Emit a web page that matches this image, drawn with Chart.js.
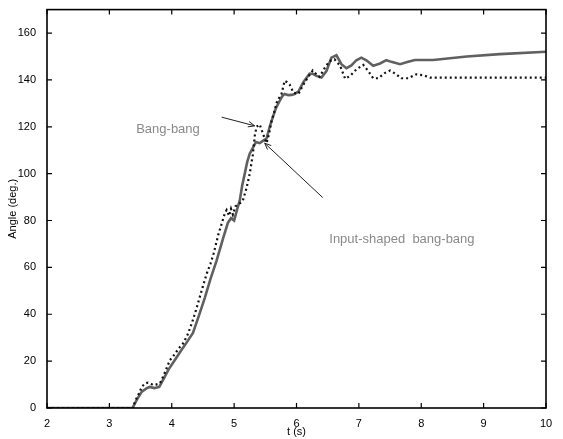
<!DOCTYPE html>
<html>
<head>
<meta charset="utf-8">
<script src="https://cdn.jsdelivr.net/npm/chart.js@4.4.1/dist/chart.umd.min.js"></script>
<style>
  html, body { margin: 0; padding: 0; background: #fff; }
  #wrap { width: 563px; height: 439px; }
</style>
</head>
<body>
<div id="wrap"><canvas id="chart1"></canvas></div>
<script>
// ====== data ======
const shapedT = [2.0, 3.37, 3.45, 3.52, 3.6, 3.65, 3.72, 3.8, 3.88, 3.95, 4.05, 4.15, 4.24, 4.34, 4.43, 4.53, 4.62, 4.72, 4.83, 4.9, 4.95, 5.0, 5.05, 5.09, 5.13, 5.17, 5.21, 5.25, 5.3, 5.35, 5.41, 5.46, 5.52, 5.57, 5.62, 5.67, 5.73, 5.77, 5.81, 5.87, 5.92, 5.97, 6.03, 6.11, 6.21, 6.27, 6.32, 6.4, 6.48, 6.56, 6.64, 6.72, 6.8, 6.88, 6.96, 7.04, 7.12, 7.23, 7.34, 7.44, 7.52, 7.66, 7.79, 7.9, 8.19, 8.73, 9.26, 10.0]
const shapedAngle = [0, 0, 4, 7, 8.5, 9, 8.5, 9, 13, 16.5, 20.5, 24.5, 28, 32, 39, 47, 55, 63, 73, 79, 81, 80, 85, 88.5, 95, 100, 105, 108.5, 111, 113.5, 113, 114, 115, 120, 124, 128, 131, 133, 134, 133.5, 133.6, 134, 135, 139, 142.7, 142.5, 141.7, 141, 143.8, 149.5, 150.5, 146.7, 145, 146.2, 148.4, 149.5, 148.4, 146, 147, 148.4, 147.7, 146.7, 147.7, 148.5, 148.5, 150, 151, 152]

const bangT = [2.0, 3.38, 3.41, 3.47, 3.52, 3.57, 3.62, 3.66, 3.7, 3.75, 3.81, 3.88, 3.97, 4.02, 4.13, 4.18, 4.25, 4.32, 4.38, 4.45, 4.5, 4.56, 4.62, 4.67, 4.75, 4.8, 4.85, 4.88, 4.92, 4.95, 4.98, 5.02, 5.1, 5.14, 5.2, 5.25, 5.3, 5.33, 5.36, 5.41, 5.45, 5.49, 5.52, 5.56, 5.6, 5.65, 5.69, 5.76, 5.81, 5.85, 5.89, 5.95, 6.03, 6.11, 6.18, 6.26, 6.32, 6.37, 6.45, 6.53, 6.61, 6.7, 6.78, 6.86, 6.96, 7.07, 7.15, 7.23, 7.31, 7.42, 7.5, 7.6, 7.68, 7.79, 7.92, 8.03, 8.14, 9.0, 10.0]
const bangAngle = [0, 0, 2.7, 6, 9, 10.5, 10.8, 10.5, 9.8, 10, 10.5, 14.5, 20.4, 22, 26, 27.5, 31, 36, 41, 47.4, 52, 57.3, 61.5, 65.8, 74.3, 78.6, 83, 84.5, 82, 85, 82.5, 86, 87.5, 88.5, 94, 100, 108, 116, 120, 121, 118, 115, 113, 117, 122.5, 127, 131, 134, 139.6, 139, 138, 134.6, 134, 138, 141, 144, 142.4, 141.3, 145, 148, 148.8, 146, 140.5, 141.7, 144.5, 146.4, 143.8, 140.7, 140.7, 143, 144, 142.4, 140.7, 140.7, 142.4, 142, 141, 141, 141]

const xTicks = [2, 3, 4, 5, 6, 7, 8, 9, 10]
const yTicks = [0, 20, 40, 60, 80, 100, 120, 140, 160]

// annotation text + arrows, in data units (t, angle)
const notes = [
  { text: 'Bang-bang', at: [3.94, 119], from: [4.8, 124.1], to: [5.33, 120.4] },
  { text: 'Input-shaped  bang-bang', at: [7.69, 72], from: [6.42, 89.8], to: [5.49, 113] }
]

const toPoints = (ts, ys) => ts.map((t, i) => ({ x: t, y: ys[i] }))

//=============== PLUGIN: box, inward ticks, annotations ===============
const matlabLook = {
  id: 'matlabLook',
  afterDatasetsDraw(chart) {
    const ctx = chart.ctx
    const xs = chart.scales.x, ys = chart.scales.y
    ctx.save()
    ctx.font = '13px "Liberation Sans", Arial, sans-serif'
    ctx.fillStyle = '#8a8a8a'
    ctx.textAlign = 'center'
    ctx.textBaseline = 'middle'
    notes.forEach(n => {
      ctx.fillText(n.text, xs.getPixelForValue(n.at[0]), ys.getPixelForValue(n.at[1]))
      const x1 = xs.getPixelForValue(n.from[0]), y1 = ys.getPixelForValue(n.from[1])
      const x2 = xs.getPixelForValue(n.to[0]), y2 = ys.getPixelForValue(n.to[1])
      ctx.strokeStyle = '#222'
      ctx.lineWidth = 1
      ctx.beginPath()
      ctx.moveTo(x1, y1)
      ctx.lineTo(x2, y2)
      const a = Math.atan2(y2 - y1, x2 - x1)
      const len = 7
      ctx.moveTo(x2, y2)
      ctx.lineTo(x2 - len * Math.cos(a - 0.4), y2 - len * Math.sin(a - 0.4))
      ctx.moveTo(x2, y2)
      ctx.lineTo(x2 - len * Math.cos(a + 0.4), y2 - len * Math.sin(a + 0.4))
      ctx.stroke()
    })
    ctx.restore()
  },
  afterDraw(chart) {
    const ctx = chart.ctx
    const { left, right, top, bottom } = chart.chartArea
    const xs = chart.scales.x, ys = chart.scales.y
    ctx.save()
    ctx.strokeStyle = '#000'
    ctx.lineWidth = 1.6
    ctx.strokeRect(left, top, right - left, bottom - top)
    ctx.lineWidth = 1.2
    ctx.beginPath()
    xTicks.forEach(v => {
      const px = xs.getPixelForValue(v)
      ctx.moveTo(px, bottom); ctx.lineTo(px, bottom - 5)
      ctx.moveTo(px, top); ctx.lineTo(px, top + 5)
    })
    yTicks.forEach(v => {
      const py = ys.getPixelForValue(v)
      ctx.moveTo(left, py); ctx.lineTo(left + 5, py)
      ctx.moveTo(right, py); ctx.lineTo(right - 5, py)
    })
    ctx.stroke()
    ctx.restore()
  }
}

const font = { family: '"Liberation Sans", Arial, sans-serif', size: 11 }

const ctx = document.querySelector('#chart1').getContext('2d')
const myChart = new Chart(ctx, {
  type: 'line',
  data: {
    datasets: [
      {
        label: 'Bang-bang',
        data: toPoints(bangT, bangAngle),
        borderColor: '#111',
        borderWidth: 2.2,
        borderDash: [2, 3],
        pointRadius: 0,
        tension: 0,
        order: 0
      },
      {
        label: 'Input-shaped bang-bang',
        data: toPoints(shapedT, shapedAngle),
        borderColor: '#606060',
        borderWidth: 2.6,
        pointRadius: 0,
        tension: 0,
        order: 1
      }
    ]
  },
  plugins: [matlabLook],
  options: {
    responsive: true,
    maintainAspectRatio: false,
    animation: false,
    layout: { padding: { top: 8, right: 17, left: 6, bottom: 0 } },
    plugins: { legend: { display: false }, tooltip: { enabled: false } },
    scales: {
      x: {
        type: 'linear',
        min: 2,
        max: 10,
        afterBuildTicks: s => { s.ticks = xTicks.map(v => ({ value: v })) },
        afterFit: s => { s.height = 31 },
        grid: { display: false },
        border: { display: false },
        ticks: { color: '#000', font: font, padding: 1, maxRotation: 0 },
        title: { display: true, text: 't (s)', color: '#000', font: font, padding: { top: 0, bottom: 0 } }
      },
      y: {
        type: 'linear',
        min: 0,
        max: 170,
        afterBuildTicks: s => { s.ticks = yTicks.map(v => ({ value: v })) },
        afterFit: s => { s.width = 41 },
        grid: { display: false },
        border: { display: false },
        ticks: { color: '#000', font: font, padding: 3 },
        title: { display: true, text: 'Angle (deg.)', color: '#000', font: font, padding: { top: 0, bottom: 2 } }
      }
    }
  }
})
</script>
</body>
</html>
